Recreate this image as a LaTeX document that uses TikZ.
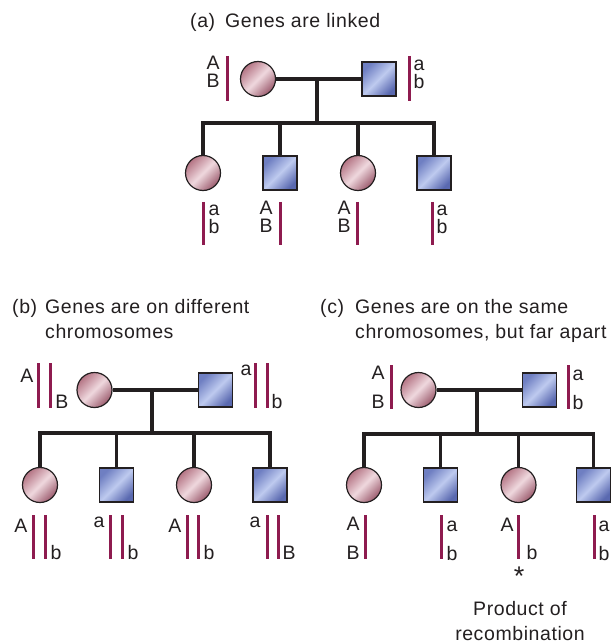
\documentclass[tikz,border=0pt]{standalone}
\usepackage{fontspec}
\setmainfont[LetterSpace=3]{Liberation Sans}
\definecolor{chrom}{HTML}{8E1B4F}
\definecolor{pinkD}{HTML}{9C5C6E}
\definecolor{pinkM}{HTML}{B47484}
\definecolor{pinkL}{HTML}{EFD8DE}
\definecolor{blueD}{HTML}{5A69B0}
\definecolor{blueM}{HTML}{6F7FC2}
\definecolor{blueL}{HTML}{BECAEF}
\definecolor{ink}{HTML}{231F20}
\tikzset{
  female/.style={circle, draw=ink, line width=1.2pt, minimum size=35pt, inner sep=0pt,
    top color=pinkM, bottom color=pinkD, middle color=pinkL, shading angle=45},
  male/.style={rectangle, draw=ink, line width=1.2pt, minimum size=34pt, inner sep=0pt,
    top color=blueM, bottom color=blueD, middle color=blueL, shading angle=45},
  rel/.style={draw=ink, line width=3.5pt},
  chromo/.style={draw=chrom, line width=3pt},
  lab/.style={font=\fontsize{19.5}{23}\selectfont, inner sep=0pt, text=ink, anchor=base},
  stackA/.style={font=\fontsize{19.5}{18.2}\selectfont, inner sep=0pt, text=ink, align=center, anchor=north},
  stackC/.style={font=\fontsize{19.5}{28.5}\selectfont, inner sep=0pt, text=ink, align=center, anchor=north},
  ttl/.style={font=\fontsize{19.5}{23}\selectfont, inner sep=0pt, text=ink, anchor=base west},
}
\begin{document}
\begin{tikzpicture}[x=1pt,y=-1pt]
\useasboundingbox (0,0) rectangle (611,644);

% ---------------- (a) ----------------
\node[ttl] (ta1) at (190,28) {(a)};
\node[ttl] (ta2) at (225,28) {Genes are linked};
\node[female] (a1) at (258,79) {};
\node[male] (a2) at (379,79) {};
\draw[rel] (a1) -- (a2);
\coordinate (am) at (317,79);
\coordinate (asib) at (317,123);
\draw[rel] (am) -- (asib);
\node[female] (ac1) at (203,173) {};
\node[male] (ac2) at (280,173) {};
\node[female] (ac3) at (358,173) {};
\node[male] (ac4) at (434,173) {};
\coordinate (as2) at (280,123);
\coordinate (as3) at (358,123);
\draw[rel] (ac1) |- (asib) -| (ac4);
\draw[rel] (as2) -- (ac2);
\draw[rel] (as3) -- (ac3);
% chromosomes
\draw[chromo] (227,56) -- (227,101);
\node[stackA] (aAB) at (213,56) {A\\B};
\draw[chromo] (409,56) -- (409,101);
\node[stackA] (aab) at (419,60) {a\\b};
\draw[chromo] (203,202) -- (203,245);
\node[stackA] (ac1g) at (214,204.5) {a\\b};
\draw[chromo] (280,202) -- (280,245);
\node[stackA] (ac2g) at (266,200.5) {A\\B};
\draw[chromo] (357,202) -- (357,245);
\node[stackA] (ac3g) at (344,200.5) {A\\B};
\draw[chromo] (432,202) -- (432,245);
\node[stackA] (ac4g) at (442,204.5) {a\\b};

% ---------------- (b) ----------------
\node[ttl] (tb1) at (12,313) {(b)};
\node[ttl] (tb2) at (45,313) {Genes are on different};
\node[ttl] (tb3) at (45,338) {chromosomes};
\node[female] (b1) at (94.5,390) {};
\node[male] (b2) at (215.5,390) {};
\draw[rel] (b1) -- (b2);
\coordinate (bm) at (152,390);
\coordinate (bsib) at (152,433);
\draw[rel] (bm) -- (bsib);
\node[female] (bc1) at (40,485) {};
\node[male] (bc2) at (116.5,485) {};
\node[female] (bc3) at (194,485) {};
\node[male] (bc4) at (270,485) {};
\coordinate (bs2) at (116.5,433);
\coordinate (bs3) at (194,433);
\draw[rel] (bc1) |- (bsib) -| (bc4);
\draw[rel] (bs2) -- (bc2);
\draw[rel] (bs3) -- (bc3);
% parents
\draw[chromo] (38,363) -- (38,408);
\draw[chromo] (50,363) -- (50,408);
\node[lab] (bA) at (27,382) {A};
\node[lab] (bB) at (62,408) {B};
\draw[chromo] (255,363) -- (255,408);
\draw[chromo] (267,363) -- (267,408);
\node[lab] (ba) at (246,375) {a};
\node[lab] (bb) at (277,408) {b};
% children
\draw[chromo] (33,515) -- (33,559);
\draw[chromo] (45,515) -- (45,559);
\node[lab] (bc1A) at (21,532) {A};
\node[lab] (bc1b) at (56,559) {b};
\draw[chromo] (110,515) -- (110,559);
\draw[chromo] (122,515) -- (122,559);
\node[lab] (bc2a) at (99,527) {a};
\node[lab] (bc2b) at (133,559) {b};
\draw[chromo] (187,515) -- (187,559);
\draw[chromo] (198,515) -- (198,559);
\node[lab] (bc3A) at (175,532) {A};
\node[lab] (bc3b) at (209,559) {b};
\draw[chromo] (267,515) -- (267,559);
\draw[chromo] (278,515) -- (278,559);
\node[lab] (bc4a) at (255,527) {a};
\node[lab] (bc4B) at (289,559) {B};

% ---------------- (c) ----------------
\node[ttl] (tc1) at (320,313) {(c)};
\node[ttl] (tc2) at (355,313) {Genes are on the same};
\node[ttl] (tc3) at (355,338) {chromosomes, but far apart};
\node[female] (c1) at (418.5,390) {};
\node[male] (c2) at (539.5,390) {};
\draw[rel] (c1) -- (c2);
\coordinate (cm) at (477,390);
\coordinate (csib) at (477,434);
\draw[rel] (cm) -- (csib);
\node[female] (cc1) at (364,485) {};
\node[male] (cc2) at (440.5,485) {};
\node[female] (cc3) at (518.5,485) {};
\node[male] (cc4) at (593.5,485) {};
\coordinate (cs2) at (440.5,434);
\coordinate (cs3) at (518.5,434);
\draw[rel] (cc1) |- (csib) -| (cc4);
\draw[rel] (cs2) -- (cc2);
\draw[rel] (cs3) -- (cc3);
% parents
\draw[chromo] (391,365) -- (391,409);
\node[stackC] (cAB) at (378,366) {A\\B};
\draw[chromo] (568,365) -- (568,409);
\node[stackC] (cab) at (578,370) {a\\b};
% children
\draw[chromo] (365,515) -- (365,559);
\node[stackC] (cc1g) at (353,517) {A\\B};
\draw[chromo] (441,515) -- (441,559);
\node[stackC] (cc2g) at (452,521) {a\\b};
\draw[chromo] (518,515) -- (518,559);
\node[lab] (cc3A) at (507,531) {A};
\node[lab] (cc3b) at (532,559) {b};
\draw[chromo] (594,515) -- (594,559);
\node[stackC] (cc4g) at (604,521) {a\\b};
\node[font=\fontsize{27}{27}\selectfont, inner sep=0pt, text=ink, anchor=center] (star) at (519,576) {*};
\node[lab] (prod1) at (520,615) {Product of};
\node[lab] (prod2) at (520,640) {recombination};
\end{tikzpicture}
\end{document}
